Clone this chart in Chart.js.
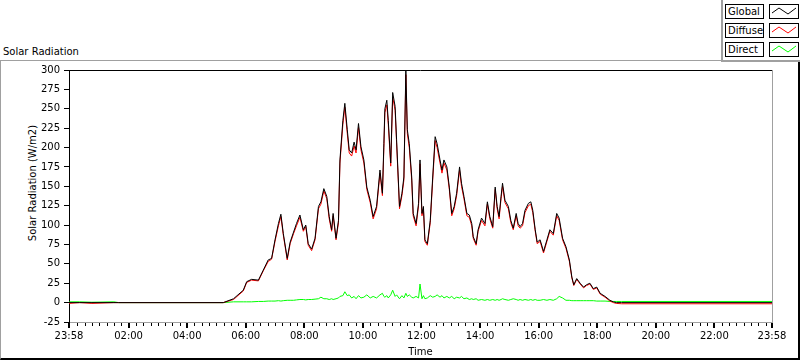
<!DOCTYPE html>
<html><head><meta charset="utf-8">
<script src="https://cdn.jsdelivr.net/npm/chart.js@4"></script>
<style>
html,body{margin:0;padding:0;background:#fff;}
#wrap{position:relative;width:800px;height:361px;overflow:hidden;font-family:"DejaVu Sans",sans-serif;font-size:10px;color:#000;}
#panel{position:absolute;left:0;top:60px;width:800px;height:300px;box-sizing:border-box;border-top:1px solid #a0a0a0;border-left:1px solid #a0a0a0;border-right:2px solid #000;border-bottom:2px solid #000;}
#title{position:absolute;left:3px;top:46px;line-height:12px;white-space:nowrap;}
#ytitle{position:absolute;left:33px;top:183px;transform:translate(-50%,-50%) rotate(-90deg);white-space:nowrap;line-height:12px;}
#legend{position:absolute;left:721px;top:0;width:79px;height:62px;box-sizing:border-box;background:#fff;border-left:2px solid #a0a0a0;border-bottom:2px solid #a0a0a0;}
.lab{position:absolute;left:2px;width:39px;height:15px;box-sizing:border-box;border:1px solid #000;padding-left:2px;line-height:13px;}
.sw{position:absolute;left:46px;width:30px;height:15px;box-sizing:border-box;border:1px solid #000;}
canvas{position:absolute;left:0;top:0;}
</style></head>
<body><div id="wrap">
<div id="panel"></div>
<div id="title">Solar Radiation</div>
<div id="ytitle">Solar Radiation (W/m2)</div>
<div id="legend"></div>
<canvas id="c" width="800" height="361"></canvas>
</div>
<script>
// ---- data ----
const seriesNames = ["Global", "Diffuse", "Direct"];
const seriesColors = ["#000000", "#ff0000", "#00ff00"];
const times = ["23:58","00:20","00:45","01:30","01:40","05:14","05:35","05:55","06:02","06:12","06:26","06:36","06:46","06:53",
"07:00","07:07","07:12","07:17","07:25","07:31","07:38","07:44","07:51","07:58","08:03","08:08","08:15","08:22","08:29","08:34",
"08:40","08:46","08:51","08:56","08:59","09:05","09:10","09:13","09:19","09:23","09:28","09:32","09:37","09:42","09:46","09:51",
"09:56","10:02","10:08","10:15","10:21","10:28","10:35","10:40","10:43","10:45","10:49","10:52","10:57","11:01","11:06","11:09",
"11:15","11:20","11:24","11:28","11:31","11:35","11:40","11:43","11:49","11:54","11:57","12:01","12:04","12:07","12:12","12:18",
"12:23","12:28","12:32","12:38","12:42","12:46","12:52","12:57","13:02","13:07","13:12","13:18","13:22","13:27","13:33","13:38",
"13:43","13:46","13:52","13:56","14:03","14:10","14:15","14:20","14:26","14:31","14:35","14:39","14:43","14:46","14:51","14:58",
"15:03","15:08","15:14","15:18","15:22","15:27","15:32","15:39","15:44","15:48","15:53","15:57","16:03","16:10","16:17","16:23",
"16:30","16:37","16:42","16:49","16:56","17:03","17:08","17:12","17:18","17:25","17:32","17:38","17:45","17:52","17:59","18:06",
"18:16","18:26","18:33","18:39","18:50","23:58"];
const globalVals = [0,0,0,0,0,0,5,16,27,30,29,42,55,57,
81,102,114,89,57,78,91,102,113,94,100,76,69,83,124,130,
147,137,111,94,115,83,106,184,235,257,223,197,193,207,197,231,
201,184,149,132,111,124,171,141,205,250,261,235,180,271,253,210,
124,141,162,300,223,205,162,115,102,128,184,115,124,81,76,106,
162,214,205,184,171,184,175,149,115,124,141,175,154,137,115,113,
102,85,76,94,109,102,130,111,98,149,124,111,137,154,132,124,
106,96,115,102,98,102,119,128,130,119,94,78,81,66,81,94,
89,115,109,83,72,55,33,23,31,25,20,23,25,18,20,12,
8,3,1,0,0,0];
const diffuseVals = [-1,0,-1,0,0,0,4,15,26,29,28,41,53,56,
79,99,111,87,55,76,89,99,110,92,98,74,67,81,121,127,
144,134,108,92,112,81,103,180,230,252,218,193,189,202,193,226,
197,180,146,129,108,121,167,138,200,245,255,230,176,265,248,206,
121,138,158,294,218,200,158,112,99,125,179,112,121,79,74,103,
158,209,200,180,167,180,171,146,112,121,138,171,150,134,112,110,
99,83,74,92,106,99,127,108,96,146,121,108,134,150,129,121,
103,94,112,99,96,99,116,125,127,116,92,76,79,64,79,92,
87,112,106,81,70,53,32,22,30,24,19,22,24,17,19,11,
7,2,0,-1,-1.5,-1.5];
const directVals = [1,1,0.5,1,0,0,1,1,1,1,1.5,1.5,2,2,
2,2.5,2,2.5,3,3,3,3.5,4,4,3.5,4,4,4.5,5,7,
5,5,4,5,4,5,6,8,9,14,9,10,6,8,5,9,
6,7,10,6,8,6,10,12,8,7,9,6,10,16,8,10,
5,9,6,12,8,10,7,6,8,6,24,5,9,5,6,9,
7,8,10,7,9,6,8,6,8,5,7,6,8,5,6,4,
5,4,5,3,4,3,4,3,4,3,4,3,4,5,4,3,
4,5,4,3,4,3,4,3,4,3,4,3,3,4,3,4,
3,5,8,6,3,3,2.5,2.5,2.5,2.5,2.5,2.5,2.5,2.5,2,2,
2,1.5,1.5,1.5,1.5,1.5];
const yTicks = {min:-25, max:300, step:25};
const xMajorTimes = ["23:58","02:00","04:00","06:00","08:00","10:00","12:00","14:00","16:00","18:00","20:00","22:00","23:58"];
const xMinorStepMin = 15;

// ---- helpers ----
function toMin(t, i){
  const [h,m] = t.split(":").map(Number);
  let v = h*60+m;
  if (i === 0 && v > 720) v -= 1440;   // first point belongs to previous day
  return v;
}
const xs = times.map(toMin);
const majorVals = xMajorTimes.map(toMin);
const majorLabel = new Map(majorVals.map((v,i)=>[v, xMajorTimes[i]]));
const xMin = majorVals[0], xMax = majorVals[majorVals.length-1];
const tickVals = [];
for (let v = xMin; v <= xMax; v++) {
  if (majorLabel.has(v)) tickVals.push(v);
  else if (v > xMin + 5 && v < xMax - 5 && v % xMinorStepMin === 0) tickVals.push(v);
}
const valsBySeries = [globalVals, diffuseVals, directVals];

// ---- legend (HTML) ----
const leg = document.getElementById('legend');
seriesNames.forEach((n,i)=>{
  const top = 4 + i*19;
  const l = document.createElement('div'); l.className='lab'; l.style.top=top+'px'; l.textContent=n; leg.appendChild(l);
  const s = document.createElement('div'); s.className='sw'; s.style.top=top+'px';
  s.innerHTML = '<svg width="28" height="13" style="position:absolute;left:0;top:0"><polyline points="2,8 9,3 18,9 26,3" fill="none" stroke="'+seriesColors[i]+'" stroke-width="1"/></svg>';
  leg.appendChild(s);
});

const font = {family:"DejaVu Sans", size:10};
const frame = {
  id:'frame',
  afterDraw(chart){
    const {ctx, chartArea:a} = chart;
    const s = chart.scales.x;
    ctx.save();
    ctx.lineWidth = 1;
    ctx.strokeStyle = '#000';
    ctx.beginPath(); ctx.moveTo(a.left, a.top+0.5); ctx.lineTo(a.right, a.top+0.5); ctx.stroke();
    ctx.strokeStyle = '#a0a0a0';
    ctx.beginPath(); ctx.moveTo(a.right+0.5, a.top); ctx.lineTo(a.right+0.5, a.bottom); ctx.stroke();
    ctx.strokeStyle = '#000';
    s.ticks.forEach(t=>{
      const major = majorLabel.has(t.value);
      const px = Math.round(s.getPixelForValue(t.value));
      ctx.lineWidth = major ? 2 : 1;
      const xx = major ? px : px + 0.5;
      ctx.beginPath(); ctx.moveTo(xx, a.bottom+1); ctx.lineTo(xx, a.bottom + (major?6:4)); ctx.stroke();
    });
    ctx.restore();
  }
};

new Chart(document.getElementById('c'), {
  type:'line',
  data:{
    datasets: seriesNames.map((n,i)=>({
      label:n,
      data: xs.map((x,k)=>({x:x, y:valsBySeries[i][k]})),
      borderColor: seriesColors[i],
      backgroundColor: seriesColors[i],
      borderWidth:1,
      pointRadius:0,
      tension:0,
      fill:false,
      order:i
    }))
  },
  options:{
    responsive:false,
    animation:false,
    events:[],
    layout:{padding:{left:0, top:70, right:28, bottom:0}},
    plugins:{legend:{display:false}, tooltip:{enabled:false}, title:{display:false}},
    scales:{
      x:{
        type:'linear', min:xMin, max:xMax,
        afterBuildTicks: s=>{ s.ticks = tickVals.map(v=>({value:v})); },
        afterFit: s=>{ s.height = 39; },
        ticks:{autoSkip:false, maxRotation:0, minRotation:0, padding:3, color:'#000', font,
          callback: v => majorLabel.has(v) ? majorLabel.get(v) : ''},
        grid:{drawOnChartArea:false, drawTicks:true, tickLength:5, tickColor:'rgba(0,0,0,0)'},
        border:{display:true, color:'#a0a0a0', width:1},
        title:{display:true, text:'Time', color:'#000', font, padding:{top:0, bottom:3}}
      },
      y:{
        min:yTicks.min, max:yTicks.max,
        afterFit: s=>{ s.width = 69; },
        ticks:{stepSize:yTicks.step, padding:4, color:'#000', font},
        grid:{drawOnChartArea:false, drawTicks:true, tickLength:5, tickColor:'#000'},
        border:{display:true, color:'#000', width:1}
      }
    }
  },
  plugins:[frame]
});
</script>
</body></html>
